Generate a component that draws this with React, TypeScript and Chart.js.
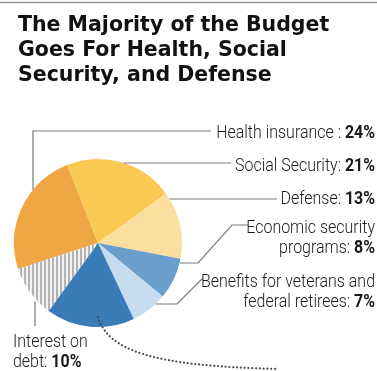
import React, { useEffect, useRef } from "react";
import { Chart, registerables } from "chart.js";

Chart.register(...registerables);

// ---- data ----
const categories = [
  "Health insurance",
  "Social Security",
  "Defense",
  "Economic security programs",
  "Benefits for veterans and federal retirees",
  "Other",
  "Interest on debt",
];
const shares = [24, 21, 13, 8, 7, 17, 10];
const sliceColors = ["#EFA745", "#F9C953", "#FCDF9F", "#6A9ECB", "#C7DCEE", "#3A7CB8", "STRIPES"];
const titleLines = ["The Majority of the Budget", "Goes For Health, Social", "Security, and Defense"];
// label lines: [normal text, show percent on this line]
const labelLines: [string, boolean][][] = [
  [["Health insurance : ", true]],
  [["Social Security: ", true]],
  [["Defense: ", true]],
  [["Economic security", false], ["programs: ", true]],
  [["Benefits for veterans and", false], ["federal retirees: ", true]],
  [],
  [["Interest on", false], ["debt: ", true]],
];

// ---- layout (annotation positions, not data) ----
const W = 377;
const H = 371;
const TITLE_FONT = "bold 20.5px 'DejaVu Sans'";
const LABEL_FONT = "Roboto";
const LABEL_SIZE = 19;
const LABEL_SX = 0.84;
const labelLayout = [
  { x: 375, y: 138, align: "right" },
  { x: 375, y: 171, align: "right" },
  { x: 375, y: 204, align: "right" },
  { x: 375, y: 233, align: "right" },
  { x: 375, y: 287, align: "right" },
  null,
  { x: 13, y: 347, align: "left" },
];
const LINE_GAP = 20;

function drawText(ctx: CanvasRenderingContext2D, text: string, x: number, y: number, font: string, sx: number) {
  ctx.save();
  ctx.font = font;
  ctx.translate(x, y);
  ctx.scale(sx, 1);
  ctx.fillText(text, 0, 0);
  ctx.restore();
}

const annotPlugin = {
  id: "annot",
  afterDraw(chart: any) {
    const ctx: CanvasRenderingContext2D = chart.ctx;
    const meta = chart.getDatasetMeta(0);
    const arc0: any = meta.data[0];
    const cx = arc0.x;
    const cy = arc0.y;
    const r = arc0.outerRadius;
    const hx = (y: number) => cx + Math.sqrt(Math.max(r * r - (y - cy) * (y - cy), 0));
    const vy = (x: number, dir: number) => cy + dir * Math.sqrt(Math.max(r * r - (x - cx) * (x - cx), 0));

    ctx.save();
    // top rule
    ctx.strokeStyle = "#9a9a9a";
    ctx.lineWidth = 1.5;
    ctx.beginPath();
    ctx.moveTo(0, 2.5);
    ctx.lineTo(W, 2.5);
    ctx.stroke();

    // title
    ctx.fillStyle = "#111";
    ctx.textBaseline = "alphabetic";
    titleLines.forEach((t, i) => {
      drawText(ctx, t, 18, 30.5 + i * 25, TITLE_FONT, 1);
    });

    // leader lines
    ctx.strokeStyle = "#7a7a7a";
    ctx.lineWidth = 1.2;
    const paths: [number, number][][] = [
      [[33, vy(33, -1)], [33, 131], [211, 131]],
      [[hx(163), 163], [231, 163]],
      [[hx(199), 199], [277, 199]],
      [[hx(263), 263], [198, 263], [232, 225], [248, 225]],
      [[hx(304), 304], [177, 304], [203, 278]],
      [[35, vy(35, 1) + 3], [35, 326]],
    ];
    paths.forEach((p) => {
      ctx.beginPath();
      p.forEach(([x, y], i) => (i ? ctx.lineTo(x, y) : ctx.moveTo(x, y)));
      ctx.stroke();
    });

    // dotted curve from "Other" slice
    ctx.strokeStyle = "#4a4a4a";
    ctx.lineWidth = 2.2;
    ctx.lineCap = "round";
    ctx.setLineDash([0.01, 3.8]);
    ctx.beginPath();
    ctx.moveTo(cx, cy + r * 0.88);
    ctx.bezierCurveTo(108, 350, 150, 366, 278, 369);
    ctx.stroke();
    ctx.setLineDash([]);

    // labels
    ctx.fillStyle = "#1a1a1a";
    const normalFont = `300 ${LABEL_SIZE}px ${LABEL_FONT}`;
    const boldFont = `bold ${LABEL_SIZE}px ${LABEL_FONT}`;
    labelLines.forEach((lines, i) => {
      const lay = labelLayout[i];
      if (!lay) return;
      lines.forEach(([txt, pct], j) => {
        const y = lay.y + j * LINE_GAP;
        const bold = pct ? `${shares[i]}%` : "";
        ctx.font = normalFont;
        const wn = ctx.measureText(txt).width * LABEL_SX;
        ctx.font = boldFont;
        const wb = ctx.measureText(bold).width * LABEL_SX;
        const x0 = lay.align === "right" ? lay.x - wn - wb : lay.x;
        drawText(ctx, txt, x0, y, normalFont, LABEL_SX);
        if (bold) drawText(ctx, bold, x0 + wn, y, boldFont, LABEL_SX);
      });
    });
    ctx.restore();
  },
};

export default function App() {
  const ref = useRef<HTMLCanvasElement | null>(null);
  useEffect(() => {
    const canvas = ref.current!;
    const pc = document.createElement("canvas");
    pc.width = 4;
    pc.height = 4;
    const pctx = pc.getContext("2d")!;
    pctx.fillStyle = "#f2f2f2";
    pctx.fillRect(0, 0, 4, 4);
    pctx.fillStyle = "#b3b3b3";
    pctx.fillRect(0, 0, 2, 4);
    const pattern = canvas.getContext("2d")!.createPattern(pc, "repeat")!;
    const bg = sliceColors.map((c) => (c === "STRIPES" ? pattern : c));

    const chart = new Chart(canvas, {
      type: "pie",
      data: {
        labels: categories,
        datasets: [
          {
            data: shares,
            backgroundColor: bg as any,
            borderWidth: 0,
          },
        ],
      },
      options: {
        responsive: false,
        animation: false,
        devicePixelRatio: 1,
        rotation: 252,
        layout: { padding: { left: 14, top: 159, right: 195, bottom: 44 } },
        plugins: {
          legend: { display: false },
          tooltip: { enabled: false },
        },
      },
      plugins: [annotPlugin],
    });
    return () => chart.destroy();
  }, []);
  return (
    <div style={{ position: "absolute", left: 0, top: 0, width: W, height: H, background: "#fff" }}>
      <canvas ref={ref} width={W} height={H} style={{ display: "block" }} />
    </div>
  );
}
